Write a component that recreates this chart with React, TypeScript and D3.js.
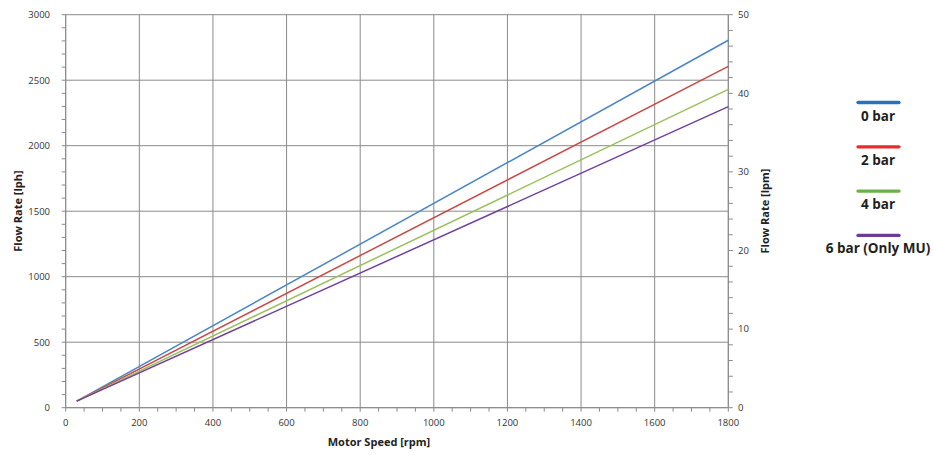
import React from "react";
import * as d3 from "d3";

const speeds = [30, 1800];
const flow0bar = [50, 2805];
const flow2bar = [50, 2605];
const flow4bar = [50, 2430];
const flow6bar = [50, 2298];
const seriesNames = ["0 bar", "2 bar", "4 bar", "6 bar (Only MU)"];
const lineColors = ["#4a86c6", "#c94844", "#9cbf5a", "#7040a0"];
const legendColors = ["#2a72b8", "#ea2a2e", "#6cb046", "#6f3a98"];
const xTicks = [0, 200, 400, 600, 800, 1000, 1200, 1400, 1600, 1800];
const yTicks = [0, 500, 1000, 1500, 2000, 2500, 3000];
const y2Ticks = [0, 10, 20, 30, 40, 50];

const W = 933, H = 455;
const L = 65.7, R = 728.3, T = 14.7, B = 407.7;
const grid = "#8a8a8a";
const font = "'Open Sans', sans-serif";

export default function App() {
  const x = d3.scaleLinear().domain([0, 1800]).range([L, R]);
  const y = d3.scaleLinear().domain([0, 3000]).range([B, T]);
  const y2 = d3.scaleLinear().domain([0, 50]).range([B, T]);
  const series = [flow0bar, flow2bar, flow4bar, flow6bar];
  const line = d3.line<[number, number]>().x(d => x(d[0])).y(d => y(d[1]));
  const xMinor = d3.range(0, 1801, 50);
  const yMinor = d3.range(0, 3001, 100);
  const y2Minor = d3.range(0, 51, 2);

  return (
    <svg width={W} height={H} style={{ position: "absolute", left: 0, top: 0, background: "#fff" }}>
      <rect width={W} height={H} fill="#fff" />
      {/* gridlines */}
      {yTicks.map(t => (
        <line key={"gy" + t} x1={L} x2={R} y1={y(t)} y2={y(t)} stroke={grid} strokeWidth={1} />
      ))}
      {xTicks.map(t => (
        <line key={"gx" + t} x1={x(t)} x2={x(t)} y1={T} y2={B} stroke={grid} strokeWidth={1} />
      ))}
      {/* axes */}
      <line x1={L} x2={L} y1={T} y2={B} stroke={grid} />
      <line x1={R} x2={R} y1={T} y2={B} stroke={grid} />
      <line x1={L} x2={R} y1={B} y2={B} stroke={grid} />
      {yMinor.map(t => (
        <line key={"ty" + t} x1={L - 4} x2={L} y1={y(t)} y2={y(t)} stroke={grid} />
      ))}
      {y2Minor.map(t => (
        <line key={"ty2" + t} x1={R} x2={R + 4.5} y1={y2(t)} y2={y2(t)} stroke={grid} />
      ))}
      {xMinor.map(t => (
        <line key={"tx" + t} x1={x(t)} x2={x(t)} y1={B} y2={B + 4} stroke={grid} />
      ))}
      {/* tick labels */}
      {yTicks.map(t => (
        <text key={"ly" + t} x={50} y={y(t)} dy="0.35em" textAnchor="end" fontFamily={font} fontSize={9.5} fill="#333">{t}</text>
      ))}
      {y2Ticks.map(t => (
        <text key={"ly2" + t} x={738} y={y2(t)} dy="0.35em" textAnchor="start" fontFamily={font} fontSize={9.5} fill="#333">{t}</text>
      ))}
      {xTicks.map(t => (
        <text key={"lx" + t} x={x(t)} y={426} textAnchor="middle" fontFamily={font} fontSize={9.5} fill="#333">{t}</text>
      ))}
      {/* series */}
      {series.map((s, i) => (
        <path key={"s" + i} d={line(speeds.map((v, j) => [v, s[j]] as [number, number])) || ""} fill="none" stroke={lineColors[i]} strokeWidth={1.5} />
      ))}
      {/* axis titles */}
      <text x={379} y={446} textAnchor="middle" fontFamily={font} fontWeight="bold" fontSize={11} fill="#222">Motor Speed [rpm]</text>
      <text transform={`translate(22,211) rotate(-90)`} textAnchor="middle" fontFamily={font} fontWeight="bold" fontSize={11} fill="#222">Flow Rate [lph]</text>
      <text transform={`translate(769,211) rotate(-90)`} textAnchor="middle" fontFamily={font} fontWeight="bold" fontSize={11} fill="#222">Flow Rate [lpm]</text>
      {/* legend */}
      {seriesNames.map((n, i) => {
        const ly = 102.5 + i * 44.3;
        return (
          <g key={"lg" + i}>
            <line x1={858} x2={899} y1={ly} y2={ly} stroke={legendColors[i]} strokeWidth={3.3} strokeLinecap="round" />
            <text x={878} y={ly + 18} textAnchor="middle" fontFamily={font} fontWeight="bold" fontSize={13.5} fill="#231f20">{n}</text>
          </g>
        );
      })}
    </svg>
  );
}
